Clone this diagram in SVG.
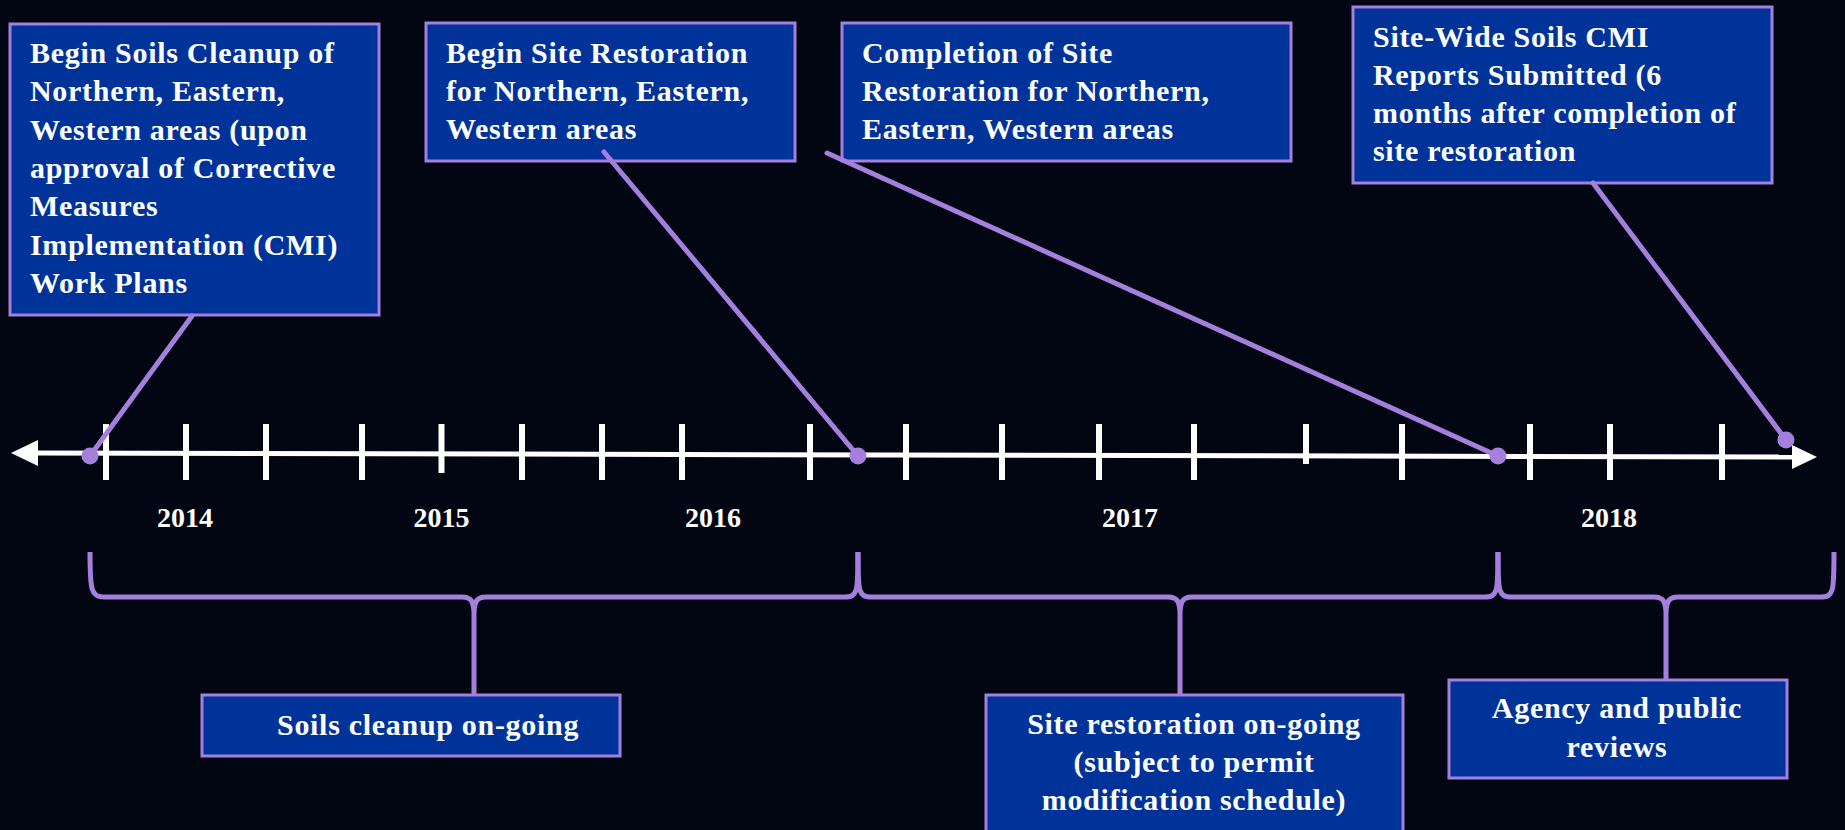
<svg xmlns="http://www.w3.org/2000/svg" width="1845" height="830" viewBox="0 0 1845 830">
<style>
.box{fill:#003399;stroke:#A47FDB;stroke-width:3}
.t{font-family:"Liberation Serif","Times New Roman",serif;font-weight:bold;font-size:30px;letter-spacing:0.7px;fill:#FFFFFF}
.yr{font-family:"Liberation Serif","Times New Roman",serif;font-weight:bold;font-size:28px;fill:#FFFFFF;text-anchor:middle}
.c{text-anchor:middle}
.conn{stroke:#A47FDB;stroke-width:5;fill:none;stroke-linecap:round}
.brace{stroke:#A47FDB;stroke-width:5;fill:none;stroke-linejoin:round}
.tick{stroke:#FFFFFF;stroke-width:6}
.dot{fill:#A47FDB}
</style>
<rect x="0" y="0" width="1845" height="830" fill="#020512"/>

<g id="node-begin-cleanup">
<rect class="box" x="10" y="24" width="369" height="291"/>
<text class="t" x="30" y="63">Begin Soils Cleanup of</text>
<text class="t" x="30" y="101">Northern, Eastern,</text>
<text class="t" x="30" y="140">Western areas (upon</text>
<text class="t" x="30" y="178">approval of  Corrective</text>
<text class="t" x="30" y="216">Measures</text>
<text class="t" x="30" y="255">Implementation (CMI)</text>
<text class="t" x="30" y="293">Work Plans</text>
</g>

<g id="node-begin-restoration">
<rect class="box" x="426" y="23" width="369" height="138"/>
<text class="t" x="446" y="63">Begin Site Restoration</text>
<text class="t" x="446" y="101">for Northern, Eastern,</text>
<text class="t" x="446" y="139">Western areas</text>
</g>

<g id="node-completion-restoration">
<rect class="box" x="842" y="23" width="449" height="138"/>
<text class="t" x="862" y="63">Completion of  Site</text>
<text class="t" x="862" y="101">Restoration for Northern,</text>
<text class="t" x="862" y="139">Eastern, Western areas</text>
</g>

<g id="node-cmi-reports">
<rect class="box" x="1353" y="7" width="419" height="176"/>
<text class="t" x="1373" y="47">Site-Wide Soils CMI</text>
<text class="t" x="1373" y="85">Reports Submitted (6</text>
<text class="t" x="1373" y="123">months after completion of</text>
<text class="t" x="1373" y="161">site restoration</text>
</g>

<g id="timeline">
<line x1="30" y1="453" x2="1800" y2="457" stroke="#FFFFFF" stroke-width="5"/>
<polygon points="11,453 38,440 38,466" fill="#FFFFFF"/>
<polygon points="1817,457 1792,445 1792,469" fill="#FFFFFF"/>
<line class="tick" x1="106" y1="424" x2="106" y2="480"/>
<line class="tick" x1="186" y1="424" x2="186" y2="480"/>
<line class="tick" x1="266" y1="424" x2="266" y2="480"/>
<line class="tick" x1="362" y1="424" x2="362" y2="480"/>
<line class="tick" x1="441.5" y1="424" x2="441.5" y2="473"/>
<line class="tick" x1="522" y1="424" x2="522" y2="480"/>
<line class="tick" x1="602" y1="424" x2="602" y2="480"/>
<line class="tick" x1="682" y1="424" x2="682" y2="480"/>
<line class="tick" x1="810" y1="424" x2="810" y2="480"/>
<line class="tick" x1="906" y1="424" x2="906" y2="480"/>
<line class="tick" x1="1002" y1="424" x2="1002" y2="480"/>
<line class="tick" x1="1099" y1="424" x2="1099" y2="480"/>
<line class="tick" x1="1194" y1="424" x2="1194" y2="480"/>
<line class="tick" x1="1306" y1="424" x2="1306" y2="464"/>
<line class="tick" x1="1402" y1="424" x2="1402" y2="480"/>
<line class="tick" x1="1530" y1="424" x2="1530" y2="480"/>
<line class="tick" x1="1610" y1="424" x2="1610" y2="480"/>
<line class="tick" x1="1722" y1="424" x2="1722" y2="480"/>
<text class="yr" x="185" y="527">2014</text>
<text class="yr" x="441.5" y="527">2015</text>
<text class="yr" x="713" y="527">2016</text>
<text class="yr" x="1130" y="527">2017</text>
<text class="yr" x="1609" y="527">2018</text>
</g>

<g id="connectors">
<line class="conn" x1="192" y1="316" x2="90" y2="456"/>
<line class="conn" x1="604" y1="152" x2="858" y2="456"/>
<line class="conn" x1="827" y1="153" x2="1498" y2="456"/>
<line class="conn" x1="1593" y1="183" x2="1786" y2="440"/>
<path class="brace" d="M90 552 C90 590 91 597 104 597 L462 597 C471 597 474 601 474 615 L474 695 M474 615 C474 601 477 597 486 597 L845 597 C858 597 858 590 858 552"/>
<path class="brace" d="M858 552 C858 590 858 597 871 597 L1168 597 C1177 597 1180 601 1180 615 L1180 695 M1180 615 C1180 601 1183 597 1192 597 L1485 597 C1498 597 1498 590 1498 552"/>
<path class="brace" d="M1498 552 C1498 590 1498 597 1511 597 L1654 597 C1663 597 1666 601 1666 615 L1666 680 M1666 615 C1666 601 1669 597 1678 597 L1821 597 C1834 597 1834 590 1834 552"/>
</g>

<g id="dots">
<circle class="dot" cx="90" cy="456" r="8.5"/>
<circle class="dot" cx="858" cy="456" r="8.5"/>
<circle class="dot" cx="1498" cy="456" r="8.5"/>
<circle class="dot" cx="1786" cy="440" r="8.5"/>
</g>

<g id="node-soils-cleanup-ongoing">
<rect class="box" x="202" y="695" width="418" height="61"/>
<text class="t" x="277" y="735">Soils cleanup on-going</text>
</g>

<g id="node-site-restoration-ongoing">
<rect class="box" x="986" y="695" width="417" height="150"/>
<text class="t c" x="1194" y="734">Site restoration on-going</text>
<text class="t c" x="1194" y="772">(subject to permit</text>
<text class="t c" x="1194" y="810">modification schedule)</text>
</g>

<g id="node-agency-reviews">
<rect class="box" x="1449" y="680" width="338" height="98"/>
<text class="t c" x="1617" y="718">Agency and public</text>
<text class="t c" x="1617" y="757">reviews</text>
</g>
</svg>
